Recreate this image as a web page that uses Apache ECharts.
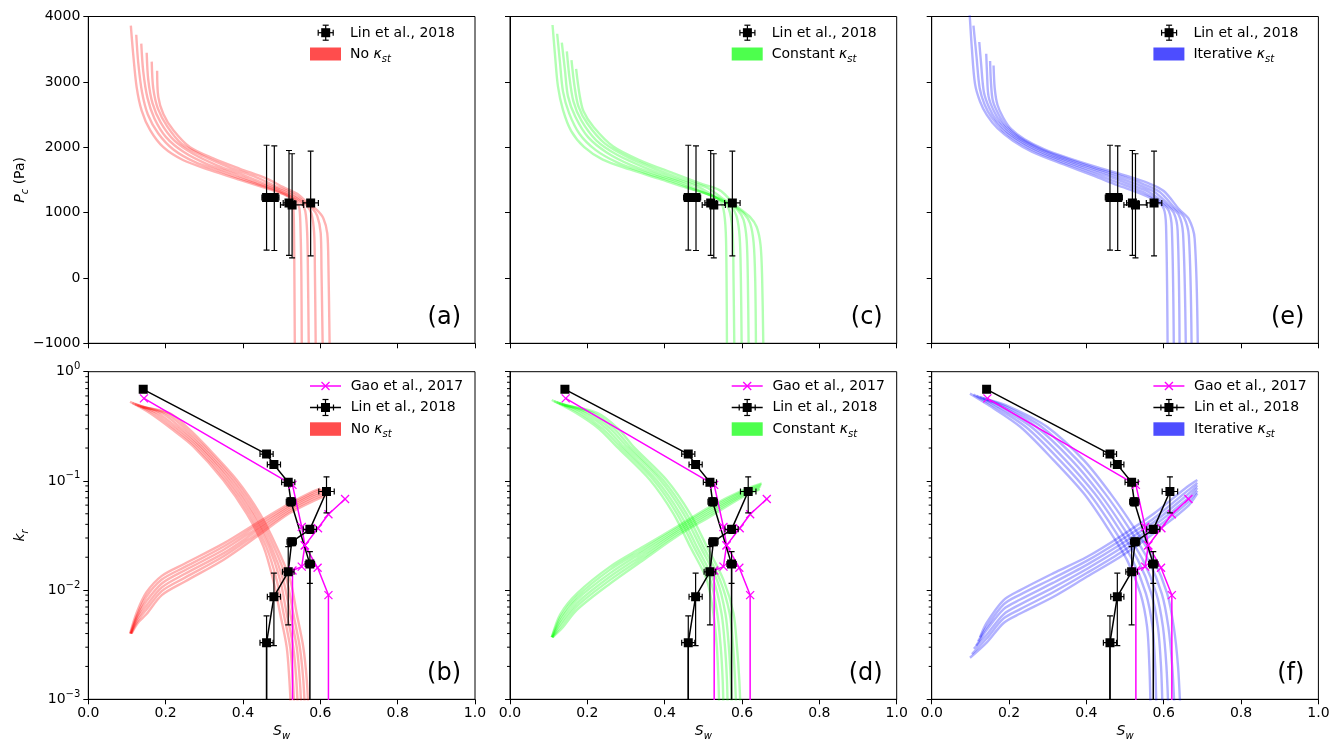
<!DOCTYPE html>
<html>
<head>
<meta charset="utf-8">
<script src="https://cdn.jsdelivr.net/npm/echarts@6.0.0/dist/echarts.min.js"></script>
<style>
html, body { margin: 0; padding: 0; background: #fff; }
#chart { width: 1338px; height: 743px; }
</style>
</head>
<body>
<div id="chart"></div>
<script>
// ---------- axis ticks ----------
const swTicks = [0, 0.2, 0.4, 0.6, 0.8, 1.0];
const pcTicks = [-1000, 0, 1000, 2000, 3000, 4000];
const krTicks = [0.001, 0.01, 0.1, 1];
const krMinorTicks = [0.002, 0.003, 0.004, 0.005, 0.006, 0.007, 0.008, 0.009,
                      0.02, 0.03, 0.04, 0.05, 0.06, 0.07, 0.08, 0.09,
                      0.2, 0.3, 0.4, 0.5, 0.6, 0.7, 0.8, 0.9];

// ---------- Lin et al., 2018 ----------
// capillary pressure: [Sw, Pc, Sw error, Pc lower, Pc upper]
const linPc = [
  [0.461, 1230, 0.012, 425, 2030],
  [0.481, 1230, 0.012, 420, 2020],
  [0.519, 1147, 0.015, 345, 1950],
  [0.527, 1117, 0.030, 307, 1900],
  [0.575, 1147, 0.020, 337, 1940]
];
// relative permeability branches: [Sw, kr] (kr = 0 falls below the log axis)
const linKrNw = [[0.142, 0.69], [0.461, 0.176], [0.480, 0.141], [0.517, 0.097],
                 [0.524, 0.0645], [0.573, 0.0173], [0.573, 0]];
const linKrW = [[0.461, 0], [0.461, 0.0033], [0.480, 0.0087], [0.517, 0.0147],
                [0.526, 0.0277], [0.573, 0.036], [0.616, 0.080]];
// measured points: [Sw, kr, Sw error, kr lower, kr upper]
const linKrPts = [
  [0.142, 0.69, 0, 0.69, 0.69],
  [0.461, 0.176, 0.017, 0.166, 0.186],
  [0.480, 0.141, 0.017, 0.133, 0.149],
  [0.517, 0.097, 0.017, 0.092, 0.102],
  [0.524, 0.0645, 0.012, 0.059, 0.070],
  [0.616, 0.080, 0.020, 0.051, 0.109],
  [0.573, 0.036, 0.017, 0.033, 0.039],
  [0.526, 0.0277, 0.012, 0.0255, 0.030],
  [0.573, 0.0173, 0.012, 0.0115, 0.0225],
  [0.517, 0.0147, 0.015, 0.0048, 0.025],
  [0.480, 0.0087, 0.017, 0.0031, 0.0143],
  [0.461, 0.0033, 0.017, 0.0008, 0.0058]
];

// ---------- Gao et al., 2017 ----------
const gaoKrNw = [[0.144, 0.57], [0.528, 0.092], [0.552, 0.0378], [0.560, 0.0257],
                 [0.593, 0.0160], [0.621, 0.0090], [0.621, 0]];
const gaoKrW = [[0.664, 0.0683], [0.621, 0.0495], [0.594, 0.0368], [0.560, 0.0257],
                [0.552, 0.0164], [0.528, 0.0151], [0.528, 0]];

// ---------- simulated capillary pressure curves [Sw, Pc] ----------
const pcNoKst = [
  [[.110,3860],[.116,3430],[.125,2920],[.138,2560],[.160,2260],[.194,2000],[.246,1800],[.315,1650],[.392,1500],[.461,1370],[.505,1280],[.525,1200],[.530,1100],[.532,700],[.533,0],[.534,-1000]],
  [[.124,3720],[.129,3300],[.139,2840],[.154,2500],[.181,2210],[.220,1965],[.275,1775],[.344,1625],[.414,1480],[.477,1355],[.517,1255],[.538,1170],[.546,1060],[.549,695],[.551,35],[.552,-1000]],
  [[.137,3585],[.142,3165],[.153,2755],[.171,2440],[.201,2155],[.246,1930],[.304,1750],[.373,1600],[.437,1455],[.492,1340],[.529,1230],[.551,1135],[.561,1025],[.566,690],[.568,70],[.570,-1000]],
  [[.151,3445],[.155,3035],[.166,2675],[.187,2380],[.222,2105],[.271,1900],[.334,1720],[.403,1570],[.459,1435],[.508,1320],[.541,1210],[.565,1105],[.577,985],[.584,690],[.586,100],[.588,-1000]],
  [[.164,3310],[.168,2900],[.180,2590],[.204,2320],[.242,2050],[.297,1865],[.363,1695],[.432,1545],[.482,1410],[.523,1305],[.553,1185],[.578,1070],[.592,950],[.601,685],[.603,135],[.606,-1000]],
  [[.178,3170],[.181,2770],[.194,2510],[.220,2260],[.263,2000],[.323,1830],[.392,1670],[.461,1520],[.504,1390],[.539,1290],[.565,1160],[.591,1040],[.608,910],[.618,680],[.621,170],[.624,-1000]]
];
const pcConstKst = [
  [[.110,3870],[.116,3440],[.124,2930],[.137,2570],[.158,2250],[.192,2000],[.240,1810],[.310,1660],[.385,1520],[.457,1380],[.509,1290],[.540,1200],[.552,1050],[.558,700],[.560,0],[.561,-1000]],
  [[.122,3736],[.129,3312],[.137,2854],[.153,2518],[.180,2202],[.221,1960],[.277,1768],[.346,1617],[.417,1484],[.480,1342],[.525,1248],[.556,1146],[.569,996],[.576,660],[.578,0],[.580,-1000]],
  [[.134,3602],[.142,3184],[.150,2778],[.169,2466],[.202,2154],[.250,1920],[.313,1726],[.383,1574],[.448,1448],[.502,1304],[.541,1206],[.572,1092],[.586,942],[.594,620],[.597,0],[.599,-1000]],
  [[.147,3468],[.154,3056],[.164,2702],[.184,2414],[.223,2106],[.278,1880],[.350,1684],[.419,1531],[.480,1412],[.525,1266],[.558,1164],[.589,1038],[.604,888],[.612,580],[.615,0],[.617,-1000]],
  [[.159,3334],[.167,2928],[.177,2626],[.200,2362],[.245,2058],[.307,1840],[.386,1642],[.456,1488],[.511,1376],[.547,1228],[.574,1122],[.605,984],[.621,834],[.630,540],[.634,0],[.636,-1000]],
  [[.171,3200],[.180,2800],[.190,2550],[.216,2310],[.267,2010],[.336,1800],[.423,1600],[.492,1445],[.543,1340],[.570,1190],[.590,1080],[.621,930],[.638,780],[.648,500],[.652,0],[.655,-1000]]
];
const pcIterKst = [
  [[.097,4150],[.104,3500],[.112,2970],[.125,2700],[.142,2500],[.170,2290],[.210,2100],[.260,1930],[.340,1740],[.420,1560],[.480,1420],[.540,1290],[.580,1180],[.600,1060],[.606,800],[.610,-1000]],
  [[.108,3860],[.116,3380],[.124,2906],[.137,2650],[.155,2456],[.184,2256],[.226,2074],[.278,1912],[.358,1730],[.436,1562],[.496,1426],[.552,1298],[.592,1154],[.613,1028],[.621,760],[.626,-1000]],
  [[.123,3610],[.128,3260],[.135,2842],[.149,2600],[.167,2412],[.198,2222],[.242,2048],[.296,1894],[.376,1720],[.452,1564],[.512,1432],[.564,1306],[.604,1128],[.626,996],[.636,720],[.641,-1000]],
  [[.141,3430],[.143,3140],[.147,2778],[.161,2550],[.180,2368],[.212,2188],[.258,2022],[.314,1876],[.394,1710],[.468,1566],[.528,1438],[.576,1314],[.616,1102],[.639,964],[.650,680],[.657,-1000]],
  [[.151,3320],[.153,3020],[.158,2714],[.173,2500],[.192,2324],[.226,2154],[.274,1996],[.332,1858],[.412,1700],[.484,1568],[.544,1444],[.588,1322],[.628,1076],[.652,932],[.665,640],[.672,-1000]],
  [[.160,3250],[.163,2900],[.170,2650],[.185,2450],[.205,2280],[.240,2120],[.290,1970],[.350,1840],[.430,1690],[.500,1570],[.560,1450],[.600,1330],[.640,1050],[.665,900],[.680,600],[.688,-1000]]
];

// ---------- simulated relative permeability curves [Sw, kr] ----------
const krNwNoKst = [
  [[.108,.53],[.160,.416],[.215,.30],[.272,.206],[.349,.102],[.410,.050],[.453,.025],[.478,.0124],[.496,.0061],[.513,.0030],[.520,.0015],[.524,.0008]],
  [[.114,.518],[.170,.416],[.224,.30],[.279,.206],[.356,.102],[.417,.050],[.460,.025],[.487,.0124],[.505,.0061],[.522,.0030],[.529,.0015],[.533,.0008]],
  [[.121,.506],[.180,.416],[.233,.30],[.286,.206],[.363,.102],[.424,.050],[.467,.025],[.496,.0124],[.513,.0061],[.530,.0030],[.538,.0015],[.542,.0008]],
  [[.127,.494],[.191,.416],[.242,.30],[.292,.206],[.370,.102],[.430,.050],[.473,.025],[.504,.0124],[.522,.0061],[.539,.0030],[.547,.0015],[.551,.0008]],
  [[.134,.482],[.201,.416],[.251,.30],[.299,.206],[.377,.102],[.437,.050],[.480,.025],[.513,.0124],[.530,.0061],[.547,.0030],[.556,.0015],[.560,.0008]],
  [[.140,.47],[.211,.416],[.260,.30],[.306,.206],[.384,.102],[.444,.050],[.487,.025],[.522,.0124],[.539,.0061],[.556,.0030],[.565,.0015],[.569,.0008]]
];
const krWNoKst = [
  [[.108,.0040],[.125,.0062],[.150,.0095],[.190,.0135],[.250,.0175],[.350,.0268],[.435,.041],[.520,.062],[.580,.080],[.600,.085]],
  [[.109,.0040],[.126,.0059],[.150,.0087],[.190,.0125],[.250,.0163],[.350,.0251],[.435,.0388],[.520,.0596],[.580,.077],[.604,.083]],
  [[.110,.0040],[.126,.0057],[.150,.0079],[.190,.0115],[.250,.0152],[.350,.0234],[.435,.0367],[.520,.0573],[.580,.074],[.608,.081]],
  [[.110,.0040],[.127,.0055],[.150,.0072],[.190,.0106],[.250,.0141],[.350,.0218],[.435,.0347],[.520,.0550],[.580,.071],[.612,.079]],
  [[.111,.0040],[.127,.0052],[.150,.0066],[.190,.0098],[.250,.0130],[.350,.0204],[.435,.0327],[.520,.0527],[.580,.068],[.616,.077]],
  [[.112,.0040],[.128,.0050],[.150,.0060],[.190,.0090],[.250,.0120],[.350,.0190],[.435,.0308],[.520,.0505],[.580,.0650],[.620,.075]]
];
const krNwConstKst = [
  [[.108,.55],[.170,.42],[.230,.30],[.276,.206],[.362,.102],[.423,.050],[.466,.025],[.509,.0124],[.526,.0061],[.535,.0030],[.539,.0015],[.541,.0008]],
  [[.114,.538],[.181,.42],[.240,.30],[.285,.206],[.371,.102],[.432,.050],[.475,.025],[.518,.0124],[.536,.0061],[.545,.0030],[.550,.0015],[.552,.0008]],
  [[.121,.526],[.192,.42],[.250,.30],[.293,.206],[.379,.102],[.440,.050],[.483,.025],[.526,.0124],[.547,.0061],[.556,.0030],[.561,.0015],[.563,.0008]],
  [[.127,.514],[.203,.42],[.260,.30],[.302,.206],[.388,.102],[.449,.050],[.492,.025],[.535,.0124],[.557,.0061],[.566,.0030],[.571,.0015],[.574,.0008]],
  [[.134,.502],[.214,.42],[.270,.30],[.310,.206],[.396,.102],[.457,.050],[.500,.025],[.543,.0124],[.568,.0061],[.577,.0030],[.582,.0015],[.585,.0008]],
  [[.140,.49],[.225,.42],[.280,.30],[.319,.206],[.405,.102],[.466,.050],[.509,.025],[.552,.0124],[.578,.0061],[.587,.0030],[.593,.0015],[.596,.0008]]
];
const krWConstKst = [
  [[.108,.0037],[.130,.0060],[.173,.0093],[.259,.0164],[.345,.025],[.431,.038],[.517,.058],[.604,.083],[.651,.095]],
  [[.108,.0037],[.131,.0057],[.173,.0087],[.259,.0154],[.345,.0237],[.431,.0366],[.517,.0558],[.604,.0808],[.650,.093]],
  [[.109,.0037],[.132,.0054],[.173,.0082],[.259,.0143],[.345,.0225],[.431,.0352],[.517,.0536],[.604,.0786],[.649,.090]],
  [[.109,.0037],[.133,.0051],[.173,.0076],[.259,.0133],[.345,.0212],[.431,.0338],[.517,.0514],[.604,.0764],[.647,.088]],
  [[.110,.0037],[.134,.0048],[.173,.0071],[.259,.0124],[.345,.0200],[.431,.0324],[.517,.0492],[.604,.0742],[.646,.085]],
  [[.110,.0037],[.135,.0045],[.173,.0066],[.259,.0115],[.345,.0189],[.431,.031],[.517,.047],[.604,.072],[.645,.083]]
];
const krNwIterKst = [
  [[.099,.63],[.145,.50],[.229,.313],[.315,.155],[.393,.0769],[.453,.038],[.505,.0189],[.540,.0093],[.557,.0046],[.563,.0020],[.566,.0008]],
  [[.108,.616],[.156,.496],[.243,.313],[.331,.155],[.407,.0769],[.467,.038],[.519,.0189],[.554,.0093],[.571,.0046],[.578,.0020],[.581,.0008]],
  [[.116,.602],[.167,.492],[.257,.313],[.346,.155],[.421,.0769],[.481,.038],[.533,.0189],[.568,.0093],[.585,.0046],[.593,.0020],[.597,.0008]],
  [[.125,.588],[.178,.488],[.270,.313],[.362,.155],[.434,.0769],[.494,.038],[.546,.0189],[.581,.0093],[.598,.0046],[.607,.0020],[.612,.0008]],
  [[.133,.574],[.189,.484],[.284,.313],[.377,.155],[.448,.0769],[.508,.038],[.560,.0189],[.595,.0093],[.612,.0046],[.622,.0020],[.628,.0008]],
  [[.142,.56],[.200,.48],[.298,.313],[.393,.155],[.462,.0769],[.522,.038],[.574,.0189],[.609,.0093],[.626,.0046],[.637,.0020],[.643,.0008]]
];
const krWIterKst = [
  [[.099,.0024],[.142,.0033],[.186,.0050],[.229,.0061],[.315,.0087],[.402,.0133],[.488,.0202],[.574,.033],[.661,.058],[.687,.077]],
  [[.104,.0026],[.142,.0036],[.186,.0055],[.229,.0067],[.315,.0096],[.402,.0144],[.488,.0220],[.574,.0357],[.661,.0630],[.687,.081]],
  [[.109,.0029],[.142,.0039],[.186,.0060],[.229,.0074],[.315,.0106],[.402,.0157],[.488,.0240],[.574,.0386],[.661,.0685],[.687,.086]],
  [[.115,.0031],[.142,.0043],[.186,.0067],[.229,.0082],[.315,.0117],[.402,.0171],[.488,.0261],[.574,.0418],[.661,.0745],[.687,.091]],
  [[.120,.0034],[.142,.0046],[.186,.0074],[.229,.0091],[.315,.0129],[.402,.0186],[.488,.0285],[.574,.0453],[.661,.0810],[.687,.096]],
  [[.125,.0037],[.142,.0050],[.186,.0081],[.229,.0100],[.315,.0143],[.402,.0202],[.488,.031],[.574,.050],[.661,.0885],[.687,.102]]
];

// ---------- layout & styling ----------
const FONT = 'DejaVu Sans';
const KR_FLOOR = 1e-6;          // kr = 0 is drawn off the bottom of the log axis
const GRID_W = 386.7;
const TOP_Y = 16.5, TOP_H = 326.8;
const BOT_Y = 371.7, BOT_H = 327.6;

const columns = [
  { left: 88.3,  line: '#ff0000', patch: '#ff4d4d', name: 'No ',        pc: pcNoKst,    nw: krNwNoKst,    w: krWNoKst,    tags: ['(a)', '(b)'] },
  { left: 510.0, line: '#00ff00', patch: '#4dff4d', name: 'Constant ',  pc: pcConstKst, nw: krNwConstKst, w: krWConstKst, tags: ['(c)', '(d)'] },
  { left: 931.7, line: '#0000ff', patch: '#4d4dff', name: 'Iterative ', pc: pcIterKst,  nw: krNwIterKst,  w: krWIterKst,  tags: ['(e)', '(f)'] }
];

const subRich = {
  i: { fontFamily: FONT, fontSize: 14, fontStyle: 'italic', lineHeight: 20, color: '#000' },
  s: { fontFamily: FONT, fontSize: 10, fontStyle: 'italic', lineHeight: 10, verticalAlign: 'bottom', color: '#000' },
  n: { fontFamily: FONT, fontSize: 14, lineHeight: 20, color: '#000' }
};
const supRich = {
  b: { fontFamily: FONT, fontSize: 14, lineHeight: 20, color: '#000' },
  p: { fontFamily: FONT, fontSize: 10, lineHeight: 10, verticalAlign: 'top', color: '#000' }
};

const krOf = v => (v > 0 ? v : KR_FLOOR);

const grids = [], xAxes = [], yAxes = [], series = [], graphics = [];

columns.forEach(col => {
  grids.push({ left: col.left, top: TOP_Y, width: GRID_W, height: TOP_H, show: true, borderColor: '#000', borderWidth: 1, backgroundColor: 'transparent' });
  grids.push({ left: col.left, top: BOT_Y, width: GRID_W, height: BOT_H, show: true, borderColor: '#000', borderWidth: 1, backgroundColor: 'transparent' });
});
// grid order: 0,2,4 top row; 1,3,5 bottom row
columns.forEach((col, c) => {
  const gt = 2 * c, gb = 2 * c + 1;
  [gt, gb].forEach(g => {
    const bottom = g === gb;
    xAxes.push({
      gridIndex: g, type: 'value', min: swTicks[0], max: swTicks[swTicks.length - 1],
      interval: swTicks[1] - swTicks[0],
      axisLine: { show: true, onZero: false, lineStyle: { color: '#000', width: 1 } },
      axisTick: { show: true, length: 5, lineStyle: { color: '#000', width: 1 } },
      axisLabel: { show: bottom, color: '#000', fontFamily: FONT, fontSize: 14, margin: 7,
                   formatter: v => v.toFixed(1), showMinLabel: true, showMaxLabel: true },
      splitLine: { show: false },
      name: bottom ? '{i|S}{s|w}' : '',
      nameLocation: 'middle', nameGap: 22, nameMoveOverlap: false,
      nameTextStyle: { rich: subRich, fontFamily: FONT, fontSize: 14, color: '#000' }
    });
  });
  yAxes.push({
    gridIndex: gt, type: 'value', min: pcTicks[0], max: pcTicks[pcTicks.length - 1],
    interval: pcTicks[1] - pcTicks[0],
    axisLine: { show: true, onZero: false, lineStyle: { color: '#000', width: 1 } },
    axisTick: { show: true, length: 5, lineStyle: { color: '#000', width: 1 } },
    axisLabel: { show: c === 0, color: '#000', fontFamily: FONT, fontSize: 14, margin: 8,
                 showMinLabel: true, showMaxLabel: true,
                 formatter: v => (v < 0 ? '\u2212' + Math.abs(v) : String(v)) },
    splitLine: { show: false },
    name: c === 0 ? '{i|P}{s|c}{n| (Pa)}' : '',
    nameLocation: 'middle', nameGap: 58, nameRotate: 90, nameMoveOverlap: false,
    nameTextStyle: { rich: subRich, fontFamily: FONT, fontSize: 14, color: '#000' }
  });
  yAxes.push({
    gridIndex: gb, type: 'log', logBase: 10, min: krTicks[0], max: krTicks[krTicks.length - 1],
    splitNumber: krTicks.length - 1,
    axisLine: { show: true, onZero: false, lineStyle: { color: '#000', width: 1 } },
    axisTick: { show: true, length: 5, lineStyle: { color: '#000', width: 1 } },
    axisLabel: { show: c === 0, margin: 8, showMinLabel: true, showMaxLabel: true, rich: supRich,
                 formatter: v => {
                   const e = Math.round(Math.log10(v));
                   return '{b|10}{p|' + (e < 0 ? '\u2212' + (-e) : e) + '}';
                 } },
    splitLine: { show: false },
    name: c === 0 ? '{i|k}{s|r}' : '',
    nameLocation: 'middle', nameGap: 58, nameRotate: 90, nameMoveOverlap: false,
    nameTextStyle: { rich: subRich, fontFamily: FONT, fontSize: 14, color: '#000' }
  });
});

// order axes so axis index == grid index
xAxes.sort((a, b) => a.gridIndex - b.gridIndex);
yAxes.sort((a, b) => a.gridIndex - b.gridIndex);

function bandLine(curve, g, color, mapY) {
  return {
    type: 'line', xAxisIndex: g, yAxisIndex: g, silent: true, animation: false,
    data: curve.map(p => [p[0], mapY ? mapY(p[1]) : p[1]]),
    symbol: 'none', showSymbol: false, clip: true, z: 1,
    smooth: 0.3,
    lineStyle: { color: color, width: 2.4, opacity: 0.3 }
  };
}
function refLine(rows, g, color) {
  return {
    type: 'line', xAxisIndex: g, yAxisIndex: g, silent: true, animation: false,
    data: rows.map(p => [p[0], krOf(p[1])]),
    symbol: 'none', showSymbol: false, clip: true, z: 3,
    lineStyle: { color: color, width: 1.5 }
  };
}
function crossMarks(rows, g, color) {
  return {
    type: 'custom', xAxisIndex: g, yAxisIndex: g, silent: true, animation: false, clip: true, z: 4,
    data: rows.filter(p => p[1] > 0), encode: { x: 0, y: 1 },
    renderItem: (params, api) => {
      const c = api.coord([api.value(0), api.value(1)]);
      const st = { stroke: color, lineWidth: 1.3 };
      return { type: 'group', children: [
        { type: 'line', shape: { x1: c[0] - 4, y1: c[1] - 4, x2: c[0] + 4, y2: c[1] + 4 }, style: st },
        { type: 'line', shape: { x1: c[0] - 4, y1: c[1] + 4, x2: c[0] + 4, y2: c[1] - 4 }, style: st }
      ] };
    }
  };
}
function errorBars(rows, g) {
  return {
    type: 'custom', xAxisIndex: g, yAxisIndex: g, silent: true, animation: false, clip: true, z: 6,
    data: rows, encode: { x: 0, y: 1 },
    renderItem: (params, api) => {
      const x = api.value(0), y = api.value(1), xe = api.value(2), lo = api.value(3), hi = api.value(4);
      const c = api.coord([x, y]);
      const kids = [];
      const seg = (x1, y1, x2, y2) => kids.push({ type: 'line', shape: { x1, y1, x2, y2 }, style: { stroke: '#000', lineWidth: 1.2 } });
      if (hi > lo) {
        const a = api.coord([x, hi]), b = api.coord([x, lo]);
        seg(c[0], a[1], c[0], b[1]);
        seg(c[0] - 3, a[1], c[0] + 3, a[1]);
        seg(c[0] - 3, b[1], c[0] + 3, b[1]);
      }
      if (xe > 0) {
        const l = api.coord([x - xe, y]), r = api.coord([x + xe, y]);
        seg(l[0], c[1], r[0], c[1]);
        seg(l[0], c[1] - 3, l[0], c[1] + 3);
        seg(r[0], c[1] - 3, r[0], c[1] + 3);
      }
      kids.push({ type: 'rect', shape: { x: c[0] - 4.5, y: c[1] - 4.5, width: 9, height: 9 }, style: { fill: '#000' } });
      return { type: 'group', children: kids };
    }
  };
}
function minorTicks(g) {
  return {
    type: 'custom', xAxisIndex: g, yAxisIndex: g, silent: true, animation: false, z: 2,
    data: krMinorTicks.map(v => [swTicks[0], v]), encode: { x: 0, y: 1 },
    renderItem: (params, api) => {
      const c = api.coord([api.value(0), api.value(1)]);
      return { type: 'line', shape: { x1: c[0] - 3, y1: c[1], x2: c[0], y2: c[1] }, style: { stroke: '#000', lineWidth: 1 } };
    }
  };
}

columns.forEach((col, c) => {
  const gt = 2 * c, gb = 2 * c + 1;
  col.pc.forEach(cv => series.push(bandLine(cv, gt, col.line)));
  col.nw.forEach(cv => series.push(bandLine(cv, gb, col.line, krOf)));
  col.w.forEach(cv => series.push(bandLine(cv, gb, col.line, krOf)));
  series.push(refLine(gaoKrNw, gb, '#ff00ff'));
  series.push(refLine(gaoKrW, gb, '#ff00ff'));
  series.push(crossMarks(gaoKrNw.concat(gaoKrW), gb, '#ff00ff'));
  series.push(refLine(linKrNw, gb, '#000'));
  series.push(refLine(linKrW, gb, '#000'));
  series.push(errorBars(linKrPts, gb));
  series.push(errorBars(linPc, gt));
  series.push(minorTicks(gb));
});

// ---------- legends and panel tags ----------
const kRich = {
  t: { fontFamily: FONT, fontSize: 14, lineHeight: 20, fill: '#000' },
  k: { fontFamily: FONT, fontSize: 14, fontStyle: 'italic', lineHeight: 20, fill: '#000' },
  s: { fontFamily: FONT, fontSize: 10, fontStyle: 'italic', lineHeight: 10, verticalAlign: 'bottom', fill: '#000' }
};
function gLine(x1, y1, x2, y2, stroke, w) {
  return { type: 'line', silent: true, z: 20, shape: { x1, y1, x2, y2 }, style: { stroke: stroke, lineWidth: w } };
}
function gText(text, x, y, extra) {
  return Object.assign({ type: 'text', silent: true, z: 20,
    style: { text: text, x: x, y: y, fill: '#000', font: '14px "DejaVu Sans"', align: 'left', verticalAlign: 'middle',
             textAlign: 'left', textVerticalAlign: 'middle' } }, extra || {});
}
function errIcon(cx, cy, half, arr) {
  arr.push(gLine(cx, cy - half, cx, cy + half, '#000', 1.2));
  arr.push(gLine(cx - 3, cy - half, cx + 3, cy - half, '#000', 1.2));
  arr.push(gLine(cx - 3, cy + half, cx + 3, cy + half, '#000', 1.2));
  arr.push(gLine(cx - half, cy, cx + half, cy, '#000', 1.2));
  arr.push(gLine(cx - half, cy - 3, cx - half, cy + 3, '#000', 1.2));
  arr.push(gLine(cx + half, cy - 3, cx + half, cy + 3, '#000', 1.2));
  arr.push({ type: 'rect', silent: true, z: 21, shape: { x: cx - 4.5, y: cy - 4.5, width: 9, height: 9 }, style: { fill: '#000' } });
}
function kstText(name, x, y) {
  const t = gText('{t|' + name + '}{k|\u03BA}{s|st}', x, y);
  t.style.rich = kRich;
  return t;
}

columns.forEach((col, c) => {
  const dx = col.left - columns[0].left;
  // upper legend
  errIcon(325.7 + dx, 32.7, 7.5, graphics);
  graphics.push(gText('Lin et al., 2018', 350 + dx, 33));
  graphics.push({ type: 'rect', silent: true, z: 20, shape: { x: 310 + dx, y: 47.5, width: 31, height: 13 }, style: { fill: col.patch } });
  graphics.push(kstText(col.name, 350 + dx, 54));
  // lower legend
  graphics.push(gLine(310 + dx, 386, 341 + dx, 386, '#ff00ff', 1.5));
  graphics.push(gLine(321.5 + dx, 382, 329.5 + dx, 390, '#ff00ff', 1.3));
  graphics.push(gLine(321.5 + dx, 390, 329.5 + dx, 382, '#ff00ff', 1.3));
  graphics.push(gText('Gao et al., 2017', 350.7 + dx, 386));
  graphics.push(gLine(310 + dx, 407.5, 341 + dx, 407.5, '#000', 1.5));
  errIcon(325.5 + dx, 407.5, 8, graphics);
  graphics.push(gText('Lin et al., 2018', 350.7 + dx, 407.5));
  graphics.push({ type: 'rect', silent: true, z: 20, shape: { x: 310 + dx, y: 422.3, width: 31, height: 13.5 }, style: { fill: col.patch } });
  graphics.push(kstText(col.name, 350.7 + dx, 429));
  // panel tags
  const tagStyle = { font: '24px "DejaVu Sans"', align: 'right', textAlign: 'right' };
  const ta = gText(col.tags[0], 461 + dx, 318); Object.assign(ta.style, tagStyle); graphics.push(ta);
  const tb = gText(col.tags[1], 461 + dx, 674); Object.assign(tb.style, tagStyle); graphics.push(tb);
});

const chart = echarts.init(document.getElementById('chart'), null, { renderer: 'canvas' });
chart.setOption({
  animation: false,
  backgroundColor: '#fff',
  textStyle: { fontFamily: FONT },
  grid: grids,
  xAxis: xAxes,
  yAxis: yAxes,
  series: series,
  graphic: { elements: graphics }
});
</script>
</body>
</html>
